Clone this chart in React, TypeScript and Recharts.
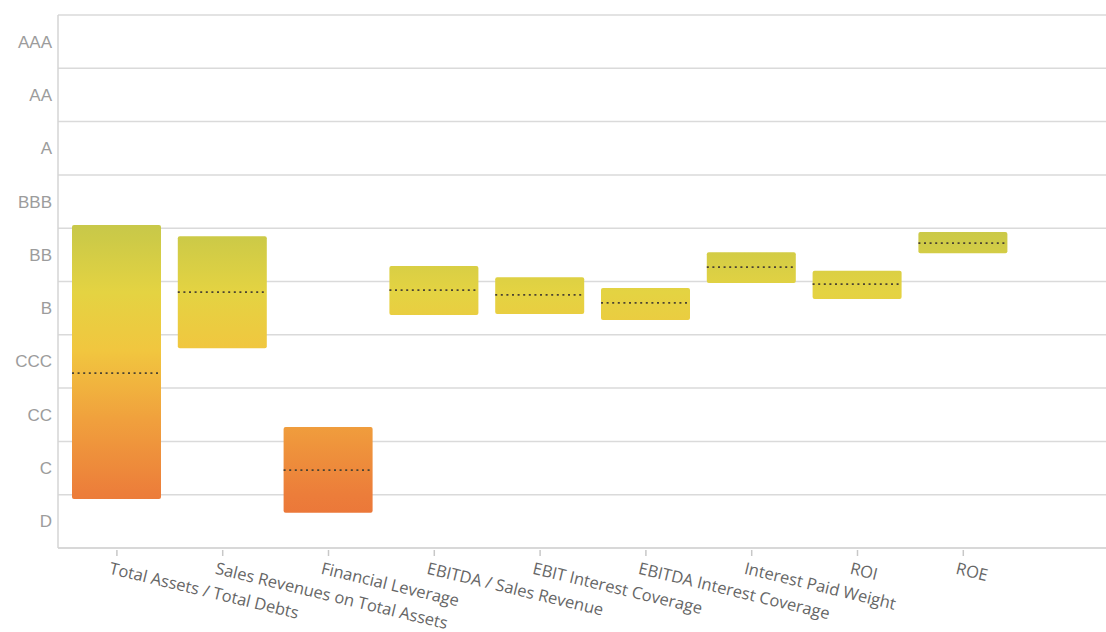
import { Bar, CartesianGrid, ComposedChart, XAxis, YAxis } from 'recharts';

const ratings = ['D', 'C', 'CC', 'CCC', 'B', 'BB', 'BBB', 'A', 'AA', 'AAA'];
const ratingTicks = [0.5, 1.5, 2.5, 3.5, 4.5, 5.5, 6.5, 7.5, 8.5, 9.5];
const gridValues = [0, 1, 2, 3, 4, 5, 6, 7, 8, 9, 10];
const ratingDomain: [number, number] = [0, 10];

const indicators = [
  'Total Assets / Total Debts',
  'Sales Revenues on Total Assets',
  'Financial Leverage',
  'EBITDA / Sales Revenue',
  'EBIT Interest Coverage',
  'EBITDA Interest Coverage',
  'Interest Paid Weight',
  'ROI',
  'ROE',
  ''
];
const lows = [0.92, 3.75, 0.66, 4.37, 4.39, 4.28, 4.97, 4.67, 5.53, null];
const highs = [6.06, 5.85, 2.27, 5.29, 5.08, 4.88, 5.55, 5.2, 5.93, null];
const medians = [3.28, 4.8, 1.46, 4.84, 4.75, 4.6, 5.27, 4.95, 5.72, null];

type Row = {
  name: string;
  low: number | null;
  high: number | null;
  median: number | null;
  range: [number, number] | null;
};

const rows: Row[] = indicators.map((name, i) => ({
  name,
  low: lows[i],
  high: highs[i],
  median: medians[i],
  range: lows[i] === null ? null : [lows[i] as number, highs[i] as number]
}));

const ratingLabel = (value: number) => ratings[Math.floor(value)] ?? '';

// grid lines sit on the rating band edges, mapped linearly over the plot area
const gridLines = ({ offset }: any) => {
  const [lo, hi] = ratingDomain;
  return gridValues.map((v) => offset.top + offset.height * (1 - (v - lo) / (hi - lo)));
};

const RangeShape = (props: any) => {
  const { x, y, width, height, payload } = props;
  if (!payload || payload.low === null) return null;
  const top = Math.min(y, y + height);
  const h = Math.abs(height);
  const medY = top + ((payload.high - payload.median) / (payload.high - payload.low)) * h;
  return (
    <g>
      <rect x={x} y={top} width={width} height={h} rx={2} fill="url(#ratingFill)" />
      <line
        x1={x}
        x2={x + width}
        y1={medY}
        y2={medY}
        stroke="#4a4232"
        strokeWidth={1.8}
        strokeDasharray="2 3.6"
      />
    </g>
  );
};

const IndicatorTick = (props: any) => {
  const { x, y, payload } = props;
  if (!payload?.value) return null;
  return (
    <g transform={`translate(${x},${y})`}>
      <line x1={0} x2={0} y1={-6} y2={0} stroke="#c8c8c8" strokeWidth={1.5} />
      <text
        transform="rotate(13.5)"
        x={-4}
        y={19}
        textAnchor="start"
        fill="#666"
        fontSize={16.5}
        fontFamily="'Open Sans', sans-serif"
      >
        {payload.value}
      </text>
    </g>
  );
};

export default function App() {
  return (
    <div
      style={{
        position: 'absolute',
        left: 0,
        top: 0,
        width: 1106,
        height: 632,
        overflow: 'hidden',
        background: '#fff'
      }}
    >
      <ComposedChart
        width={1122}
        height={632}
        data={rows}
        margin={{ top: 15, right: 0, left: 0, bottom: 0 }}
      >
        <defs>
          <linearGradient id="ratingFill" gradientUnits="userSpaceOnUse" x1="0" y1="15" x2="0" y2="548">
            <stop offset="0.35" stopColor="#c0c54d" />
            <stop offset="0.42" stopColor="#cdca47" />
            <stop offset="0.52" stopColor="#e4d342" />
            <stop offset="0.63" stopColor="#f1c63f" />
            <stop offset="0.76" stopColor="#f0a03d" />
            <stop offset="0.9" stopColor="#ec7d3a" />
            <stop offset="1" stopColor="#ea6e38" />
          </linearGradient>
        </defs>
        <CartesianGrid
          vertical={false}
          verticalPoints={[]}
          verticalCoordinatesGenerator={() => []}
          stroke="#dadada"
          strokeWidth={1.5}
          horizontalCoordinatesGenerator={gridLines}
        />
        <XAxis
          dataKey="name"
          type="category"
          height={84}
          padding={{ left: 6, right: 0 }}
          interval={0}
          tick={<IndicatorTick />}
          tickSize={6}
          tickLine={false}
          axisLine={{ stroke: '#d4d4d4', strokeWidth: 1.5 }}
        />
        <YAxis
          type="number"
          domain={ratingDomain}
          ticks={ratingTicks}
          tickFormatter={ratingLabel}
          width={58}
          tickLine={false}
          axisLine={{ stroke: '#d4d4d4', strokeWidth: 1.5 }}
          tickMargin={0}
          tick={{
            fill: '#9c9c9c',
            fontSize: 17,
            fontFamily: "'Liberation Sans', Arial, sans-serif"
          }}
          interval={0}
        />
        <Bar
          dataKey="range"
          barSize={89}
          shape={<RangeShape />}
          isAnimationActive={false}
        />
      </ComposedChart>
    </div>
  );
}
